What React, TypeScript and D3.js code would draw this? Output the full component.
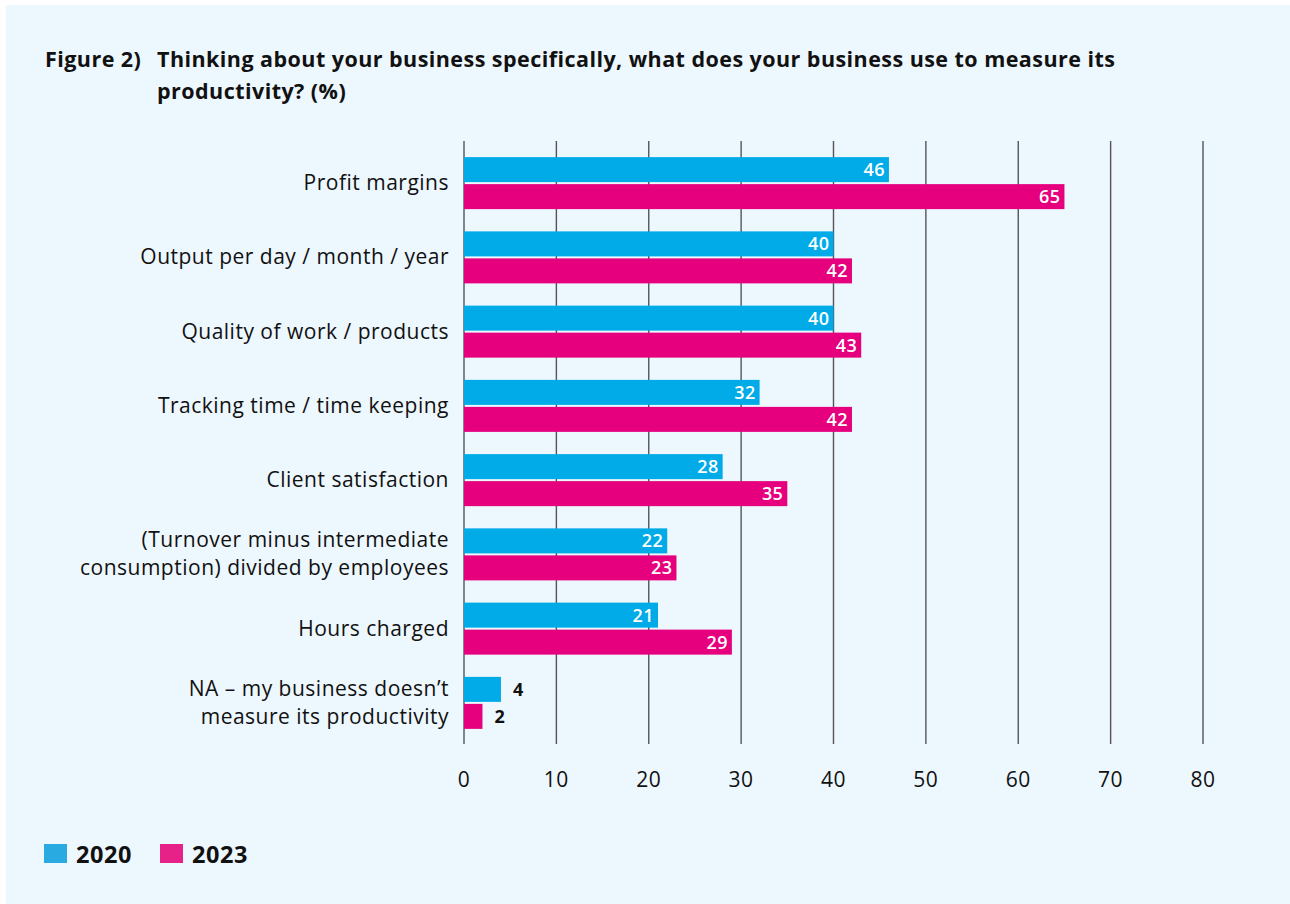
import React from "react";
import * as d3 from "d3";

const categories: string[][] = [
  ["Profit margins"],
  ["Output per day / month / year"],
  ["Quality of work / products"],
  ["Tracking time / time keeping"],
  ["Client satisfaction"],
  ["(Turnover minus intermediate", "consumption) divided by employees"],
  ["Hours charged"],
  ["NA – my business doesn’t", "measure its productivity"],
];
const values2020 = [46, 40, 40, 32, 28, 22, 21, 4];
const values2023 = [65, 42, 43, 42, 35, 23, 29, 2];
const ticks = [0, 10, 20, 30, 40, 50, 60, 70, 80];
const seriesNames = ["2020", "2023"];

const C2020 = "#00ABE8";
const C2023 = "#E6007E";
const FONT = "'Open Sans', Lato, sans-serif";

export default function App() {
  const W = 1290, H = 904;
  const x = d3.scaleLinear().domain([0, 80]).range([464, 1203]);
  const keys = categories.map((_, i) => String(i));
  const y = d3.scaleBand().domain(keys).range([146, 740]).padding(0);
  const barH = 25;
  const gap = 2;
  const series = [values2020, values2023];
  const colors = [C2020, C2023];

  return (
    <svg width={W} height={H} style={{ position: "absolute", left: 0, top: 0, fontFamily: FONT }}>
      <rect x={0} y={0} width={W} height={H} fill="#ffffff" />
      <rect x={6} y={5} width={W - 6} height={H - 5} fill="#EDF7FE" />
      <g fontSize={21.5} fontWeight={700} fill="#111" letterSpacing={0.45}>
        <text x={45} y={67}>Figure 2)</text>
        <text x={157} y={67}>
          Thinking about your business specifically, what does your business use to measure its
        </text>
        <text x={157} y={99}>productivity? (%)</text>
      </g>

      {ticks.map((t) => (
        <g key={t}>
          <line x1={x(t)} x2={x(t)} y1={141} y2={744} stroke="#555" strokeWidth={1.4} />
          <text x={x(t)} y={787} fontSize={21} letterSpacing={0.5} textAnchor="middle" fill="#111">{t}</text>
        </g>
      ))}

      {categories.map((lines, i) => {
        const c = (y(keys[i]) as number) + y.bandwidth() / 2;
        const lh = 28;
        const start = c + 7 - ((lines.length - 1) * lh) / 2;
        return (
          <g key={i}>
            {lines.map((ln, j) => (
              <text key={j} x={449} y={start + j * lh} fontSize={21} letterSpacing={0.5} textAnchor="end" fill="#111">{ln}</text>
            ))}
            {series.map((vals, s) => {
              const v = vals[i];
              const by = s === 0 ? c - barH - gap / 2 : c + gap / 2;
              const w = x(v) - x(0);
              const inside = w > 40;
              return (
                <g key={s}>
                  <rect x={x(0)} y={by} width={w} height={barH} fill={colors[s]} />
                  <text
                    x={inside ? x(v) - 4 : x(v) + 12}
                    y={by + barH / 2 + 6.5}
                    fontSize={18}
                    fontWeight={inside ? 600 : 700}
                    letterSpacing={0.4}
                    textAnchor={inside ? "end" : "start"}
                    fill={inside ? "#fff" : "#111"}
                  >
                    {v}
                  </text>
                </g>
              );
            })}
          </g>
        );
      })}

      {seriesNames.map((n, i) => (
        <g key={n} transform={`translate(${44 + i * 116},0)`}>
          <rect x={0} y={844} width={23} height={19} fill={i === 0 ? "#29ABE2" : "#E62188"} />
          <text x={32} y={863} fontSize={23.5} fontWeight={700} letterSpacing={0.6} fill="#111">{n}</text>
        </g>
      ))}
    </svg>
  );
}
